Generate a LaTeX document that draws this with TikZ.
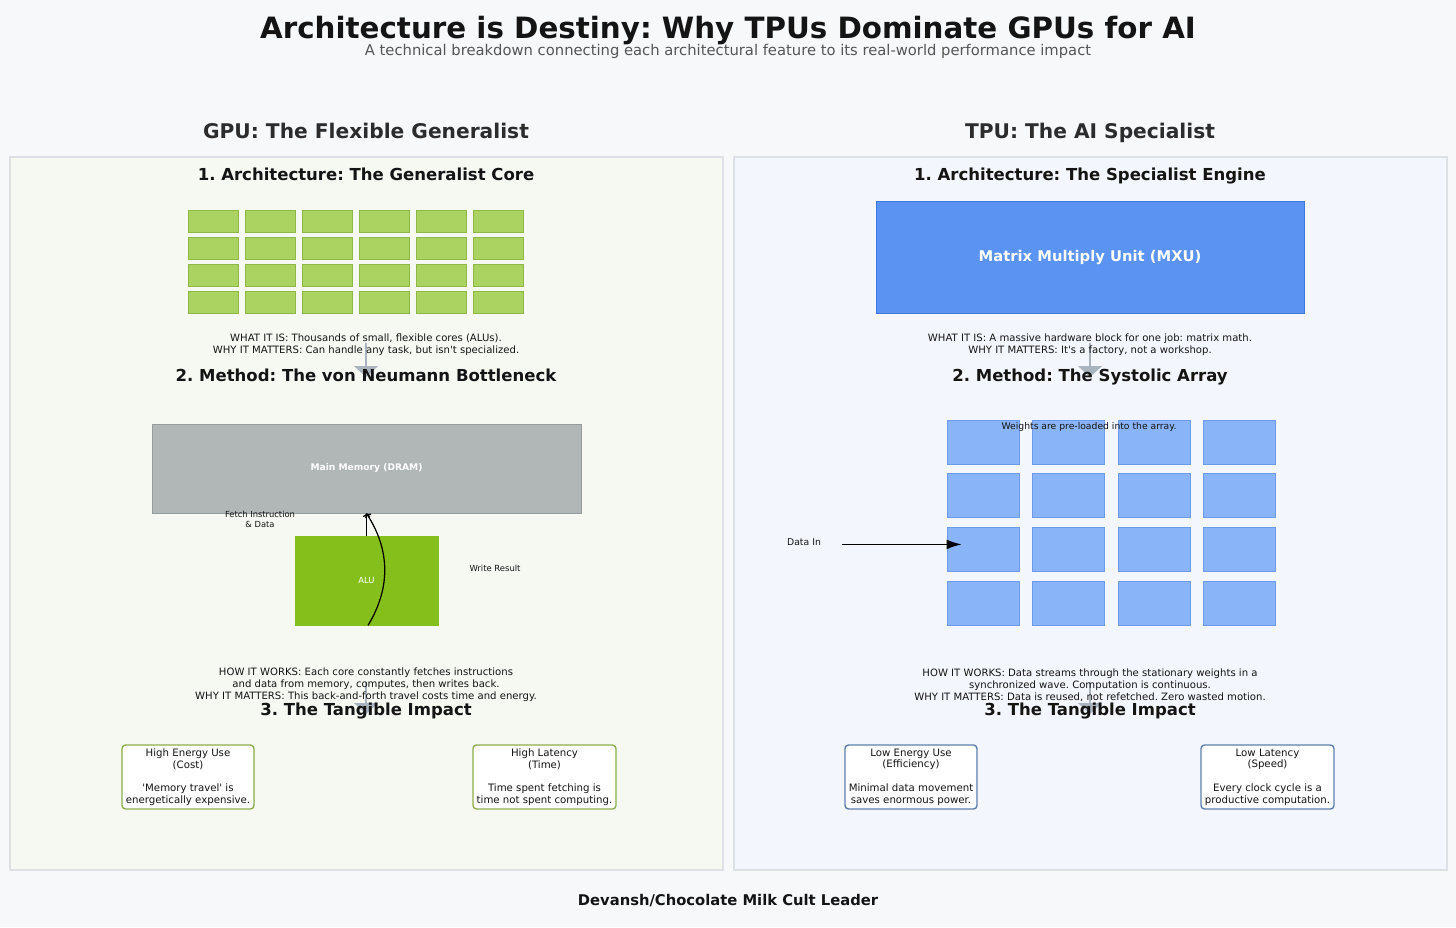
\documentclass[tikz,border=0pt]{standalone}
\usepackage{fontspec}
\setmainfont{DejaVu Sans}
\usepackage{tikz}
\definecolor{pagebg}{HTML}{F7F8FA}
\definecolor{gpupanel}{HTML}{F6F9F1}
\definecolor{tpupanel}{HTML}{F3F6FC}
\definecolor{panelline}{HTML}{DDE0E4}
\definecolor{corefill}{HTML}{ABD361}
\definecolor{coreline}{HTML}{8DB845}
\definecolor{alugreen}{HTML}{85BF1B}
\definecolor{memgray}{HTML}{B1B6B7}
\definecolor{memline}{HTML}{979C9E}
\definecolor{mxublue}{HTML}{5A93F2}
\definecolor{mxuline}{HTML}{3F79DE}
\definecolor{cellblue}{HTML}{8AB4F8}
\definecolor{cellline}{HTML}{6C9AE6}
\definecolor{gpuedge}{HTML}{8CAE4E}
\definecolor{tpuedge}{HTML}{5C7FAF}
\definecolor{flowgray}{HTML}{AAB4BF}
\definecolor{ink}{HTML}{141414}
\definecolor{subink}{HTML}{555555}
\usetikzlibrary{arrows.meta, positioning}
\frenchspacing

\begin{document}
\begin{tikzpicture}[
    x=0.02cm, y=-0.02cm,
    panel/.style={draw=panelline, line width=0.6pt, fill=#1},
    colhead/.style={font=\fontsize{11.5}{13}\selectfont\bfseries, text=ink!90, text height=0.82em, text depth=0pt},
    sechead/.style={font=\fontsize{9.4}{11}\selectfont\bfseries, text=ink, text height=0.82em, text depth=0pt},
    note/.style={font=\fontsize{5.75}{6.8}\selectfont, align=center, text=ink},
    tiny/.style={font=\fontsize{4.75}{5.6}\selectfont, align=center, text=ink},
    core/.style={draw=coreline, line width=0.5pt, fill=corefill, minimum width=1cm, minimum height=0.44cm, inner sep=0pt},
    cell/.style={draw=cellline, line width=0.5pt, fill=cellblue, minimum width=1.44cm, minimum height=0.88cm, inner sep=0pt},
    block/.style={draw=#1!80!black, line width=0.5pt, fill=#1, inner sep=0pt},
    impact/.style={draw=#1, line width=0.8pt, rounded corners=2pt, fill=white, minimum height=1.28cm,
                   font=\fontsize{5.8}{6.8}\selectfont, align=center, text=ink, inner sep=1pt},
    flow/.style={draw=flowgray, line width=0.9pt, -{Triangle[width=0.48cm, length=0.22cm]}},
    link/.style={draw=black, line width=0.7pt, -{To[length=2pt]}}
]
    % page and frame
    \fill[pagebg] (0,0) rectangle (1456,927);
    \useasboundingbox (0,0) rectangle (1456,927);

    \node[font=\fontsize{16.7}{18}\selectfont\bfseries, text=ink] (title) at (728,31)
        {Architecture is Destiny: Why TPUs Dominate GPUs for AI};
    \node[font=\fontsize{8.4}{10}\selectfont, text=subink] (subtitle) at (728,51)
        {A technical breakdown connecting each architectural feature to its real-world performance impact};

    \node[colhead] (gpuhead) at (366,131) {GPU: The Flexible Generalist};
    \node[colhead] (tpuhead) at (1090,131) {TPU: The AI Specialist};

    \draw[panel=gpupanel] (10,157) rectangle (723,870);
    \draw[panel=tpupanel] (734,157) rectangle (1447,870);

    % ---------------- GPU side ----------------
    \node[sechead] (gsec1) at (366,173) {1. Architecture: The Generalist Core};

    \foreach \r in {1,...,4}
        \foreach \c in {1,...,6}
            \node[core] (core-\r-\c) at ({213+57*(\c-1)},{221+27*(\r-1)}) {};

    \coordinate (gflow1a) at (366,343);
    \coordinate (gflow1b) at (366,377);
    \draw[flow] (gflow1a) -- (gflow1b);

    \node[note] (gwhat) at (366,345) {WHAT IT IS: Thousands of small, flexible cores (ALUs).\\
        WHY IT MATTERS: Can handle any task, but isn\textquotesingle t specialized.};

    \node[sechead] (gsec2) at (366,374) {2. Method: The von Neumann Bottleneck};

    \node[block=memgray, draw=memline, minimum width=8.58cm, minimum height=1.78cm,
          font=\fontsize{5.2}{6}\selectfont\bfseries, text=white] (mem) at (366.5,468.5) {Main Memory (DRAM)};
    \node[block=alugreen, draw=alugreen, minimum width=2.86cm, minimum height=1.78cm,
          font=\fontsize{4.8}{6}\selectfont, text=white] (alu) at (366.5,580.5) {ALU};

    \draw[link] (alu.north) -- (mem.south);
    \draw[link] ([xshift=0.03cm]alu.south) to[bend right=32] (mem.south);

    \node[tiny] (fetch) at (260,519) {Fetch Instruction\\ \& Data};
    \node[tiny, font=\fontsize{4.8}{5.6}\selectfont] (write) at (495,568) {Write Result};

    \coordinate (gflow2a) at (366,682);
    \coordinate (gflow2b) at (366,714);
    \draw[flow] (gflow2a) -- (gflow2b);

    \node[note] (ghow) at (366,685) {HOW IT WORKS: Each core constantly fetches instructions\\
        and data from memory, computes, then writes back.\\
        WHY IT MATTERS: This back-and-forth travel costs time and energy.};

    \node[sechead] (gsec3) at (366,708) {3. The Tangible Impact};

    \node[impact=gpuedge, minimum width=2.64cm] (gcost) at (188,777)
        {High Energy Use\\(Cost)\\[6.5pt]\textquotesingle Memory travel\textquotesingle\ is\\energetically expensive.};
    \node[impact=gpuedge, minimum width=2.86cm] (gtime) at (544.5,777)
        {High Latency\\(Time)\\[6.5pt]Time spent fetching is\\time not spent computing.};

    % ---------------- TPU side ----------------
    \node[sechead] (tsec1) at (1090,173) {1. Architecture: The Specialist Engine};

    \node[block=mxublue, draw=mxuline, minimum width=8.56cm, minimum height=2.24cm,
          font=\fontsize{8.4}{10}\selectfont\bfseries, text=white] (mxu) at (1090,257) {Matrix Multiply Unit (MXU)};

    \coordinate (tflow1a) at (1090,343);
    \coordinate (tflow1b) at (1090,377);
    \draw[flow] (tflow1a) -- (tflow1b);

    \node[note] (twhat) at (1090,345) {WHAT IT IS: A massive hardware block for one job: matrix math.\\
        WHY IT MATTERS: It\textquotesingle s a factory, not a workshop.};

    \node[sechead] (tsec2) at (1090,374) {2. Method: The Systolic Array};

    \foreach \r in {1,...,4}
        \foreach \c in {1,...,4}
            \node[cell] (cell-\r-\c) at ({983+85.5*(\c-1)},{442+53.7*(\r-1)}) {};

    \node[tiny, font=\fontsize{5.25}{6}\selectfont] (weights) at (1089,427) {Weights are pre-loaded into the array.};
    \node[tiny, font=\fontsize{5.3}{6}\selectfont] (datain) at (804,542) {Data In};
    \draw[line width=0.7pt, -{Latex[length=8.5pt, width=5.5pt]}, shorten <=0.3cm, shorten >=-0.3cm]
        ([yshift=0.1cm]datain.east |- cell-3-1.west) -- ([yshift=0.1cm]cell-3-1.west);

    \coordinate (tflow2a) at (1090,682);
    \coordinate (tflow2b) at (1090,714);
    \draw[flow] (tflow2a) -- (tflow2b);

    \node[note] (thow) at (1090,685) {HOW IT WORKS: Data streams through the stationary weights in a\\
        synchronized wave. Computation is continuous.\\
        WHY IT MATTERS: Data is reused, not refetched. Zero wasted motion.};

    \node[sechead] (tsec3) at (1090,708) {3. The Tangible Impact};

    \node[impact=tpuedge, minimum width=2.64cm] (tenergy) at (911,777)
        {Low Energy Use\\(Efficiency)\\[6.5pt]Minimal data movement\\saves enormous power.};
    \node[impact=tpuedge, minimum width=2.66cm] (tspeed) at (1267.5,777)
        {Low Latency\\(Speed)\\[6.5pt]Every clock cycle is a\\productive computation.};

    \node[font=\fontsize{8.4}{10}\selectfont\bfseries, text=ink] (footer) at (728,901)
        {Devansh/Chocolate Milk Cult Leader};
\end{tikzpicture}
\end{document}
